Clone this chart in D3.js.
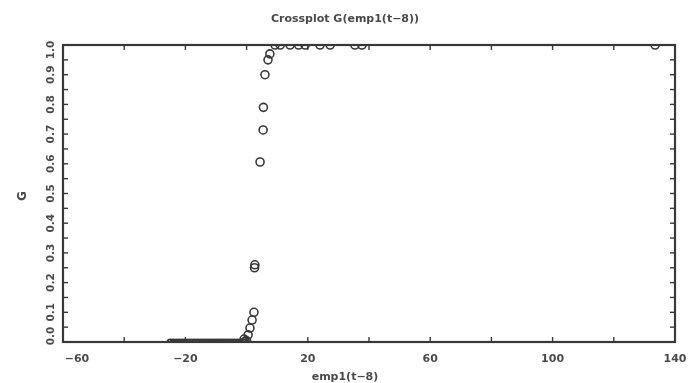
<!DOCTYPE html>
<html>
<head>
<meta charset="utf-8">
<script src="https://cdn.jsdelivr.net/npm/d3@7"></script>
<style>
  body { margin: 0; background: #fff; }
  svg { display: block; }
  .lbl { font-family: "DejaVu Sans", sans-serif; font-weight: bold; fill: #4a4a4a; }
</style>
</head>
<body>
<svg id="chart" width="688" height="383"></svg>
<script>
const empX = [-25, -24, -23, -22, -21, -20, -19, -18, -17, -16, -15, -14, -13, -12, -11, -10,
  -9, -8, -7, -6, -5, -4, -3, -2, -1, -0.5, 0, -0.8, 0.5, 1.1, 1.8, 2.4, 2.7, 2.6,
  4.4, 5.4, 5.5, 6.0, 7.0, 7.6, 9.3, 11, 14.2, 17, 19.1, 24, 27.3, 35.4, 37.7, 133.5]
const gVal = [0, 0, 0, 0, 0, 0, 0, 0, 0, 0, 0, 0, 0, 0, 0, 0,
  0, 0, 0, 0, 0, 0, 0, 0, 0, 0.002, 0.004, 0.01, 0.024, 0.047, 0.074, 0.1, 0.26, 0.25,
  0.606, 0.714, 0.79, 0.9, 0.95, 0.97, 1, 1, 1, 1, 1, 1, 1, 1, 1, 1]
const xTicks = [-60, -20, 20, 60, 100, 140]
const yTicks = [0.0, 0.1, 0.2, 0.3, 0.4, 0.5, 0.6, 0.7, 0.8, 0.9, 1.0]

const M = { left: 63, right: 675, top: 45, bottom: 342 }
const INK = '#383838'

let svg = d3.select('#chart')
let defs = svg.append('defs')
defs.append('filter').attr('id', 'soft')
  .append('feGaussianBlur').attr('stdDeviation', 0.55)
defs.append('clipPath').attr('id', 'plot-clip')
  .append('rect')
  .attr('x', M.left).attr('y', M.top)
  .attr('width', M.right - M.left).attr('height', M.bottom - M.top)

let x = d3.scaleLinear().domain([-60, 140]).range([M.left, M.right])
let y = d3.scaleLinear().domain([0, 1]).range([M.bottom, M.top])

let g = svg.append('g').attr('filter', 'url(#soft)')

// points first, frame drawn on top
g.append('g').attr('clip-path', 'url(#plot-clip)')
  .selectAll('circle')
  .data(empX.map((v, i) => [v, gVal[i]]))
  .join('circle')
  .attr('cx', d => x(d[0]))
  .attr('cy', d => y(d[1]))
  .attr('r', d => d[1] === 0 ? 2.6 : 4)
  .attr('fill', 'none')
  .attr('stroke', INK)
  .attr('stroke-width', 1.6)

// ticks on all four sides (every 20 on x, every 0.05 on y)
const TL = 5
let minorX = d3.range(-60, 141, 20)
let minorY = d3.range(0, 1.0001, 0.05)
let ticks = g.append('g').attr('stroke', INK).attr('stroke-width', 1.4)
ticks.selectAll('.tb').data(minorX).join('line')
  .attr('x1', d => x(d)).attr('x2', d => x(d))
  .attr('y1', M.bottom).attr('y2', M.bottom - TL)
ticks.selectAll('.tt').data(minorX).join('line')
  .attr('x1', d => x(d)).attr('x2', d => x(d))
  .attr('y1', M.top).attr('y2', M.top + TL)
ticks.selectAll('.tl').data(minorY).join('line')
  .attr('x1', M.left).attr('x2', M.left + TL)
  .attr('y1', d => y(d)).attr('y2', d => y(d))
ticks.selectAll('.tr').data(minorY).join('line')
  .attr('x1', M.right).attr('x2', M.right - TL)
  .attr('y1', d => y(d)).attr('y2', d => y(d))

g.append('rect')
  .attr('x', M.left).attr('y', M.top)
  .attr('width', M.right - M.left).attr('height', M.bottom - M.top)
  .attr('fill', 'none').attr('stroke', INK).attr('stroke-width', 2.2)

// tick labels
g.selectAll('.xl').data(xTicks).join('text')
  .attr('class', 'lbl')
  .attr('x', d => x(d) + (d === -60 ? 14 : 0))
  .attr('y', 362)
  .attr('text-anchor', 'middle')
  .attr('font-size', 11)
  .text(d => d === -60 || d === -20 ? '\u2212' + Math.abs(d) : d)

g.selectAll('.yl').data(yTicks).join('text')
  .attr('class', 'lbl')
  .attr('transform', d => `translate(54, ${y(d) + (d === 0 ? -6 : (d === 1 ? 5 : 0))}) rotate(-90)`)
  .attr('text-anchor', 'middle')
  .attr('font-size', 10.5)
  .text(d => d.toFixed(1))

g.append('text').attr('class', 'lbl')
  .attr('x', 345).attr('y', 22)
  .attr('text-anchor', 'middle').attr('font-size', 11)
  .text('Crossplot G(emp1(t\u22128))')

g.append('text').attr('class', 'lbl')
  .attr('x', 345).attr('y', 380)
  .attr('text-anchor', 'middle').attr('font-size', 11)
  .text('emp1(t\u22128)')

g.append('text').attr('class', 'lbl')
  .attr('transform', 'translate(26, 196) rotate(-90)')
  .attr('text-anchor', 'middle').attr('font-size', 12)
  .text('G')
</script>
</body>
</html>
